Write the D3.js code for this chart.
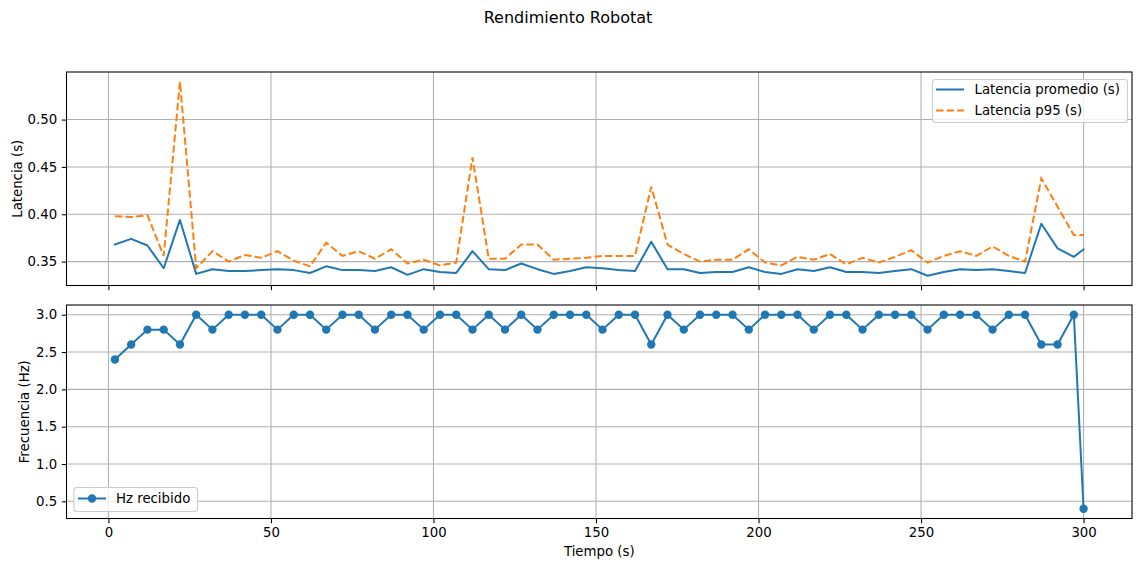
<!DOCTYPE html>
<html>
<head>
<meta charset="utf-8">
<script src="https://cdn.jsdelivr.net/npm/d3@7"></script>
<style>
  html, body { margin: 0; padding: 0; background: #fff; }
  svg { display: block; font-family: "DejaVu Sans", sans-serif; }
</style>
</head>
<body>
<svg id="chart" width="1136" height="562"></svg>
<script>
// ---- Data ----
const tiempo = [2,7,12,17,22,27,32,37,42,47,52,57,62,67,72,77,82,87,92,97,102,107,112,117,122,127,132,137,142,147,152,157,162,167,172,177,182,187,192,197,202,207,212,217,222,227,232,237,242,247,252,257,262,267,272,277,282,287,292,297,300];
const latPromedio = [0.368,0.374,0.367,0.343,0.394,0.337,0.342,0.340,0.340,0.341,0.342,0.341,0.338,0.345,0.341,0.341,0.340,0.344,0.336,0.342,0.339,0.338,0.361,0.342,0.341,0.348,0.342,0.337,0.340,0.344,0.343,0.341,0.340,0.371,0.342,0.342,0.338,0.339,0.339,0.344,0.339,0.337,0.342,0.340,0.344,0.339,0.339,0.338,0.340,0.342,0.335,0.339,0.342,0.341,0.342,0.340,0.338,0.390,0.364,0.355,0.363];
const latP95 = [0.398,0.397,0.399,0.356,0.540,0.343,0.361,0.350,0.357,0.354,0.361,0.351,0.345,0.370,0.356,0.361,0.353,0.363,0.348,0.352,0.346,0.349,0.460,0.353,0.353,0.368,0.368,0.352,0.353,0.354,0.356,0.356,0.356,0.429,0.368,0.358,0.350,0.352,0.352,0.363,0.349,0.346,0.355,0.352,0.358,0.347,0.354,0.349,0.355,0.362,0.349,0.356,0.361,0.356,0.366,0.356,0.350,0.438,0.408,0.378,0.378];
const hzRecibido = [2.4,2.6,2.8,2.8,2.6,3.0,2.8,3.0,3.0,3.0,2.8,3.0,3.0,2.8,3.0,3.0,2.8,3.0,3.0,2.8,3.0,3.0,2.8,3.0,2.8,3.0,2.8,3.0,3.0,3.0,2.8,3.0,3.0,2.6,3.0,2.8,3.0,3.0,3.0,2.8,3.0,3.0,3.0,2.8,3.0,3.0,2.8,3.0,3.0,3.0,2.8,3.0,3.0,3.0,2.8,3.0,3.0,2.6,2.6,3.0,0.4];
const xTicks = [0,50,100,150,200,250,300];
const latTicks = [0.35,0.40,0.45,0.50];
const hzTicks = [0.5,1.0,1.5,2.0,2.5,3.0];
const titulo = "Rendimiento Robotat";
const serieNombres = ["Latencia promedio (s)", "Latencia p95 (s)", "Hz recibido"];

// ---- Layout ----
const svg = d3.select("#chart");
const L = 66.5, R = 1132;
const top1 = 72, bot1 = 285.5, top2 = 305, bot2 = 518.5;
const FS = 13.3;
const blue = "#1f77b4", orange = "#ff7f0e", gridC = "#b0b0b0";

function padDomain(vals) {
  const [a, b] = d3.extent(vals);
  const m = (b - a) * 0.05;
  return [a - m, b + m];
}

const x = d3.scaleLinear().domain(padDomain(tiempo)).range([L, R]);
const y1 = d3.scaleLinear().domain(padDomain(latPromedio.concat(latP95))).range([bot1, top1]);
const y2 = d3.scaleLinear().domain(padDomain(hzRecibido)).range([bot2, top2]);

// clip paths
const defs = svg.append("defs");
defs.append("clipPath").attr("id", "c1").append("rect").attr("x", L).attr("y", top1).attr("width", R - L).attr("height", bot1 - top1);
defs.append("clipPath").attr("id", "c2").append("rect").attr("x", L).attr("y", top2).attr("width", R - L).attr("height", bot2 - top2);

function drawPanel(y, yt, fmt, topY, botY, clipId, showXLabels) {
  const g = svg.append("g");
  // grid
  g.append("g").selectAll("line").data(xTicks).join("line")
    .attr("x1", d => x(d)).attr("x2", d => x(d)).attr("y1", topY).attr("y2", botY)
    .attr("stroke", gridC).attr("stroke-width", 1.07);
  g.append("g").selectAll("line").data(yt).join("line")
    .attr("x1", L).attr("x2", R).attr("y1", d => y(d)).attr("y2", d => y(d))
    .attr("stroke", gridC).attr("stroke-width", 1.07);
  // axes
  const xa = d3.axisBottom(x).tickValues(xTicks).tickSize(4.67).tickPadding(4.67)
    .tickFormat(showXLabels ? d3.format("d") : () => "");
  const gx = g.append("g").attr("transform", `translate(0,${botY})`).call(xa);
  const ya = d3.axisLeft(y).tickValues(yt).tickSize(4.67).tickPadding(4.67).tickFormat(d3.format(fmt));
  const gy = g.append("g").attr("transform", `translate(${L},0)`).call(ya);
  [gx, gy].forEach(a => {
    a.select(".domain").remove();
    a.selectAll(".tick line").attr("stroke", "#000").attr("stroke-width", 1.07);
    a.selectAll(".tick text").attr("fill", "#000").style("font-size", FS + "px").style("font-family", "DejaVu Sans");
  });
  return g;
}

const g1 = drawPanel(y1, latTicks, ".2f", top1, bot1, "c1", false);
const g2 = drawPanel(y2, hzTicks, ".1f", top2, bot2, "c2", true);

// data lines
const idx = d3.range(tiempo.length);
const line1 = d3.line().x(i => x(tiempo[i])).y(i => y1(latPromedio[i]));
const line2 = d3.line().x(i => x(tiempo[i])).y(i => y1(latP95[i]));
const line3 = d3.line().x(i => x(tiempo[i])).y(i => y2(hzRecibido[i]));

const d1 = svg.append("g").attr("clip-path", "url(#c1)");
d1.append("path").attr("d", line1(idx)).attr("fill", "none").attr("stroke", blue).attr("stroke-width", 2).attr("stroke-linejoin", "round").attr("stroke-linecap", "square");
d1.append("path").attr("d", line2(idx)).attr("fill", "none").attr("stroke", orange).attr("stroke-width", 2).attr("stroke-dasharray", "7.4,3.2");

const d2 = svg.append("g").attr("clip-path", "url(#c2)");
d2.append("path").attr("d", line3(idx)).attr("fill", "none").attr("stroke", blue).attr("stroke-width", 2).attr("stroke-linejoin", "round");
d2.selectAll("circle").data(idx).join("circle")
  .attr("cx", i => x(tiempo[i])).attr("cy", i => y2(hzRecibido[i])).attr("r", 4.2).attr("fill", blue);

// frames
[[top1, bot1], [top2, bot2]].forEach(([t, b]) => {
  svg.append("rect").attr("x", L).attr("y", t).attr("width", R - L).attr("height", b - t)
    .attr("fill", "none").attr("stroke", "#000").attr("stroke-width", 1.07);
});

// title & labels
svg.append("text").attr("x", 568).attr("y", 22.5).attr("text-anchor", "middle")
  .style("font-size", "16px").attr("fill", "#000").text(titulo);
svg.append("text").attr("x", (L + R) / 2).attr("y", 556).attr("text-anchor", "middle")
  .style("font-size", FS + "px").attr("fill", "#000").text("Tiempo (s)");
svg.append("text").attr("transform", `translate(21.5,${(top1 + bot1) / 2}) rotate(-90)`).attr("text-anchor", "middle")
  .style("font-size", FS + "px").attr("fill", "#000").text("Latencia (s)");
svg.append("text").attr("transform", `translate(29,${(top2 + bot2) / 2}) rotate(-90)`).attr("text-anchor", "middle")
  .style("font-size", FS + "px").attr("fill", "#000").text("Frecuencia (Hz)");

// legends
function legendBox(x0, y0, w, h) {
  svg.append("rect").attr("x", x0).attr("y", y0).attr("width", w).attr("height", h).attr("rx", 3)
    .attr("fill", "#fff").attr("fill-opacity", 0.8).attr("stroke", "#cccccc").attr("stroke-width", 1.07);
}
legendBox(932.5, 79.5, 195, 43);
svg.append("line").attr("x1", 936).attr("x2", 964).attr("y1", 89.5).attr("y2", 89.5).attr("stroke", blue).attr("stroke-width", 2);
svg.append("line").attr("x1", 936).attr("x2", 964).attr("y1", 110.5).attr("y2", 110.5).attr("stroke", orange).attr("stroke-width", 2).attr("stroke-dasharray", "7.4,3.2");
svg.append("text").attr("x", 974.5).attr("y", 94.3).style("font-size", FS + "px").attr("fill", "#000").text(serieNombres[0]);
svg.append("text").attr("x", 974.5).attr("y", 115.3).style("font-size", FS + "px").attr("fill", "#000").text(serieNombres[1]);

legendBox(74, 487.5, 123.5, 24);
svg.append("line").attr("x1", 78).attr("x2", 106).attr("y1", 498.5).attr("y2", 498.5).attr("stroke", blue).attr("stroke-width", 2);
svg.append("circle").attr("cx", 92).attr("cy", 498.5).attr("r", 4.2).attr("fill", blue);
svg.append("text").attr("x", 116).attr("y", 503.3).style("font-size", FS + "px").attr("fill", "#000").text(serieNombres[2]);
</script>
</body>
</html>
